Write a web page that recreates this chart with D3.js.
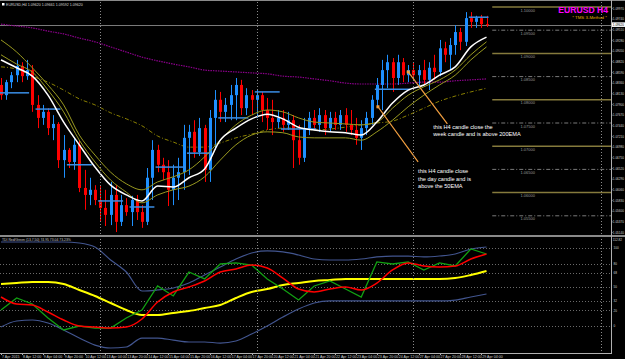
<!DOCTYPE html>
<html>
<head>
<meta charset="utf-8">
<script src="https://cdnjs.cloudflare.com/ajax/libs/d3/7.8.5/d3.min.js"></script>
<style>
html, body { margin: 0; padding: 0; background: #000; }
svg { display: block; font-family: Arial, "Liberation Sans", sans-serif; }
</style>
</head>
<body>
<svg id="chart"></svg>
<script>
// ---- EURUSD H4 candles (bar 0 = 7 Apr 20:00)
var opens  = [1.0832,1.0810,1.0838,1.0853,1.0873,1.0851,1.0864,1.0789,1.0761,1.0774,1.0739,1.0748,1.0670,1.0692,1.0666,1.0703,1.0610,1.0595,1.0606,1.0584,1.0567,1.0552,1.0595,1.0537,1.0573,1.0558,1.0584,1.0558,1.0537,1.0632,1.0692,1.0660,1.0644,1.0606,1.0632,1.0644,1.0718,1.0731,1.0687,1.0739,1.0649,1.0761,1.0800,1.0774,1.0789,1.0810,1.0832,1.0782,1.0810,1.0800,1.0810,1.0778,1.0761,1.0752,1.0761,1.0746,1.0756,1.0713,1.0675,1.0739,1.0761,1.0746,1.0767,1.0739,1.0761,1.0746,1.0767,1.0746,1.0735,1.0718,1.0739,1.0761,1.0800,1.0832,1.0864,1.0881,1.0847,1.0881,1.0853,1.0864,1.0853,1.0864,1.0843,1.0869,1.0860,1.0911,1.0897,1.0918,1.0946,1.0925,1.0976,1.0968,1.0976,1.0963];
var highs  = [1.0847,1.0843,1.0860,1.0886,1.0881,1.0886,1.0875,1.0810,1.0789,1.0782,1.0767,1.0752,1.0724,1.0696,1.0718,1.0713,1.0649,1.0632,1.0616,1.0614,1.0606,1.0623,1.0616,1.0595,1.0588,1.0593,1.0595,1.0573,1.0653,1.0713,1.0703,1.0675,1.0670,1.0660,1.0675,1.0746,1.0746,1.0756,1.0761,1.0746,1.0778,1.0821,1.0817,1.0804,1.0832,1.0847,1.0843,1.0825,1.0821,1.0821,1.0817,1.0804,1.0800,1.0778,1.0778,1.0774,1.0767,1.0746,1.0761,1.0774,1.0778,1.0782,1.0778,1.0774,1.0774,1.0778,1.0782,1.0778,1.0761,1.0756,1.0774,1.0810,1.0847,1.0886,1.0897,1.0890,1.0897,1.0890,1.0875,1.0881,1.0875,1.0886,1.0881,1.0897,1.0929,1.0925,1.0933,1.0961,1.0955,1.0989,1.0989,1.0981,1.0983,1.0981];
var lows   = [1.0800,1.0800,1.0825,1.0838,1.0838,1.0843,1.0774,1.0739,1.0746,1.0724,1.0713,1.0653,1.0632,1.0653,1.0649,1.0601,1.0563,1.0573,1.0573,1.0537,1.0528,1.0530,1.0515,1.0528,1.0550,1.0528,1.0541,1.0524,1.0530,1.0584,1.0644,1.0627,1.0571,1.0573,1.0584,1.0606,1.0638,1.0675,1.0679,1.0623,1.0623,1.0692,1.0752,1.0752,1.0756,1.0756,1.0767,1.0767,1.0767,1.0761,1.0752,1.0735,1.0724,1.0739,1.0731,1.0735,1.0653,1.0660,1.0666,1.0724,1.0735,1.0731,1.0724,1.0731,1.0735,1.0735,1.0731,1.0724,1.0703,1.0692,1.0724,1.0746,1.0782,1.0778,1.0825,1.0817,1.0832,1.0838,1.0838,1.0843,1.0825,1.0832,1.0821,1.0843,1.0851,1.0881,1.0864,1.0897,1.0907,1.0916,1.0955,1.0955,1.0955,1.0957];
var closes = [1.0810,1.0838,1.0853,1.0873,1.0851,1.0864,1.0789,1.0761,1.0774,1.0739,1.0748,1.0670,1.0692,1.0666,1.0703,1.0610,1.0595,1.0606,1.0584,1.0567,1.0552,1.0595,1.0537,1.0573,1.0558,1.0584,1.0558,1.0537,1.0632,1.0692,1.0660,1.0644,1.0606,1.0632,1.0644,1.0718,1.0731,1.0687,1.0739,1.0649,1.0761,1.0800,1.0774,1.0789,1.0810,1.0832,1.0782,1.0810,1.0800,1.0810,1.0778,1.0761,1.0752,1.0761,1.0746,1.0756,1.0713,1.0675,1.0739,1.0761,1.0746,1.0767,1.0739,1.0761,1.0746,1.0767,1.0746,1.0735,1.0718,1.0739,1.0761,1.0800,1.0832,1.0864,1.0881,1.0847,1.0881,1.0853,1.0864,1.0853,1.0864,1.0843,1.0869,1.0860,1.0911,1.0897,1.0918,1.0946,1.0925,1.0976,1.0968,1.0976,1.0963,1.0962];

// ---- moving averages, sampled every 3 bars
var lineIdx   = [0,3,6,9,12,15,18,21,24,27,30,33,36,39,42,45,48,51,54,57,60,63,66,69,72,75,78,81,84,87,90,93];
var fastEma   = [1.0886,1.0869,1.0851,1.0810,1.0752,1.0703,1.0655,1.0616,1.0595,1.0582,1.0614,1.0612,1.0632,1.0651,1.0713,1.0739,1.0759,1.0769,1.0759,1.0741,1.0735,1.0731,1.0729,1.0724,1.0752,1.0793,1.0821,1.0832,1.0853,1.0871,1.0914,1.0935];
var bandHigh  = [1.0929,1.0903,1.0869,1.0832,1.0789,1.0724,1.0681,1.0644,1.0619,1.0606,1.0623,1.0634,1.0649,1.0677,1.0713,1.0746,1.0767,1.0778,1.0774,1.0761,1.0752,1.0750,1.0748,1.0746,1.0752,1.0782,1.0810,1.0828,1.0843,1.0864,1.0897,1.0925];
var bandLow   = [1.0897,1.0877,1.0860,1.0821,1.0774,1.0713,1.0666,1.0627,1.0601,1.0578,1.0595,1.0606,1.0614,1.0634,1.0670,1.0703,1.0724,1.0731,1.0729,1.0720,1.0718,1.0718,1.0718,1.0713,1.0731,1.0756,1.0785,1.0810,1.0832,1.0853,1.0886,1.0914];
var ema50     = [1.0871,1.0866,1.0851,1.0838,1.0821,1.0802,1.0789,1.0772,1.0759,1.0744,1.0722,1.0709,1.0698,1.0698,1.0707,1.0718,1.0726,1.0735,1.0739,1.0739,1.0735,1.0737,1.0741,1.0746,1.0750,1.0754,1.0767,1.0782,1.0797,1.0808,1.0817,1.0825];
var ema200    = [1.0963,1.0959,1.0955,1.0948,1.0942,1.0933,1.0925,1.0914,1.0903,1.0892,1.0884,1.0877,1.0871,1.0864,1.0862,1.0860,1.0858,1.0856,1.0851,1.0849,1.0845,1.0841,1.0836,1.0834,1.0834,1.0834,1.0836,1.0838,1.0838,1.0841,1.0843,1.0845];

// ---- TDI window, same sampling
var tdiUpper  = [107.7,107.7,107.7,107.7,107.7,106.4,101.3,84.6,69.2,44.9,46.2,48.7,55.1,65.4,75.6,85.9,93.6,96.2,94.9,91.0,85.9,84.6,84.6,85.9,88.5,89.7,89.7,88.5,89.7,92.3,98.7,101.3];
var tdiLower  = [-1.3,6.4,7.7,3.8,-5.1,-15.4,-24.4,-28.2,-26.9,-15.4,-15.4,-18.0,-20.5,-20.5,-21.8,-19.2,-10.3,0.0,11.5,21.8,29.5,32.1,32.1,32.1,32.1,32.1,32.1,32.1,32.1,33.3,37.2,41.0];
var tdiBase   = [53.8,55.1,56.4,56.4,53.8,46.2,38.5,29.5,20.5,14.1,14.1,16.7,19.2,23.1,26.9,35.9,43.6,47.4,52.6,55.1,57.7,59.0,60.3,60.3,60.3,60.3,60.3,60.3,60.3,61.5,65.4,70.5];
var tdiSignal = [37.2,28.2,26.9,17.9,7.7,0.0,-1.3,-2.6,-1.3,9.0,30.8,43.6,50.0,57.7,69.2,73.1,78.2,74.4,61.5,47.4,43.6,47.4,50.0,46.2,55.1,71.8,80.8,76.9,75.6,76.9,85.9,92.3];
var tdiPrice  = [20.5,35.9,28.2,10.3,-5.1,0.0,-2.6,-2.6,10.3,20.5,51.3,38.5,69.2,60.3,79.5,80.8,78.2,60.3,47.4,33.3,51.3,57.7,47.4,37.2,82.1,79.5,82.1,71.8,80.8,76.9,98.7,92.3];
var tdiLevels = [0, 20, 32, 50, 68, 80, 100];

// ---- blue block lines
var blockStart = [0, 7, 13, 19, 25, 30, 36, 42, 49, 54, 72, 90];
var blockEnd   = [5, 11, 17, 23, 29, 35, 40, 47, 53, 60, 78, 93];
var blockPrice = [1.0815,1.0780,1.0660,1.0582,1.0569,1.0655,1.0685,1.0761,1.0817,1.0737,1.0823,1.0978];

// ---- TMS zone levels (drawn right of the last bar)
var zoneSolid = [1.10, 1.09, 1.08, 1.07, 1.06];
var zoneDash  = [1.095, 1.085, 1.075, 1.065, 1.055];

// ---- axes
var priceTicks = [1.09970,1.09740,1.09510,1.09280,1.09050,1.08820,1.08590,1.08360,1.08130,1.07900,1.07670,1.07440,1.07210,1.06980,1.06750,1.06520,1.06290,1.06060,1.05830,1.05600,1.05370,1.05140];
var timeIdx    = [0,4,8,12,16,20,24,28,32,36,40,44,48,52,56,60,64,68,72,76,80,84,88,92];
var timeLabels = ["7 Apr 2015","8 Apr 12:00","9 Apr 04:00","9 Apr 20:00","10 Apr 12:00","13 Apr 04:00","13 Apr 20:00","14 Apr 12:00","15 Apr 04:00","15 Apr 20:00","16 Apr 12:00","17 Apr 04:00","17 Apr 20:00","20 Apr 12:00","21 Apr 04:00","21 Apr 20:00","22 Apr 12:00","23 Apr 04:00","23 Apr 20:00","24 Apr 12:00","27 Apr 04:00","27 Apr 20:00","28 Apr 12:00","29 Apr 04:00"];
var separatorIdx = [19, 49, 79, 115];

// ---- notes
var notes = [
  {tipI: 78, tipP: 1.0860, endI: 85.5, endP: 1.0748, textI: 82.8, textP: 1.0738,
   lines: ["this H4 candle close the", "week candle and is above 200EMA"]},
  {tipI: 72.2, tipP: 1.0785, endI: 79.9, endP: 1.0666, textI: 79.9, textP: 1.0642,
   lines: ["this H4 candle close", "the day candle and is", "above the 50EMA"]}
];

var width = 625, height = 359;
var axisX = 611;
var mainTop = 2, mainBottom = 235, tdiTop = 237, tdiBottom = 353;

var svg = d3.select("#chart").attr("width", width).attr("height", height);
svg.append("rect").attr("width", width).attr("height", height).attr("fill", "#000");

var x = d3.scaleLinear().domain([0, 93]).range([1, 486.5]);
var y = d3.scaleLinear().domain([1.05, 1.10]).range([239, 7]);
var yT = d3.scaleLinear().domain([-33.3, 112.8]).range([352, 238]);

var defs = svg.append("defs");
defs.append("clipPath").attr("id", "clipMain").append("rect")
  .attr("x", 0).attr("y", mainTop).attr("width", axisX).attr("height", mainBottom - mainTop);
defs.append("clipPath").attr("id", "clipTdi").append("rect")
  .attr("x", 0).attr("y", tdiTop).attr("width", axisX).attr("height", tdiBottom - tdiTop);

var main = svg.append("g").attr("clip-path", "url(#clipMain)");
var tdi = svg.append("g").attr("clip-path", "url(#clipTdi)");

// period separators
svg.selectAll("line.sep")
  .data(separatorIdx)
  .enter().append("line")
  .attr("class", "sep")
  .attr("x1", d => Math.round(x(d)) + 0.5).attr("x2", d => Math.round(x(d)) + 0.5)
  .attr("y1", mainTop).attr("y2", tdiBottom)
  .attr("stroke", "#8a8a8a").attr("stroke-width", 1).attr("stroke-dasharray", "1,2");

// TMS zone lines
main.selectAll("line.zs")
  .data(zoneSolid).enter().append("line")
  .attr("x1", x(94.1)).attr("x2", axisX)
  .attr("y1", d => y(d)).attr("y2", d => y(d))
  .attr("stroke", "#857a3c").attr("stroke-width", 1.5);
main.selectAll("line.zd")
  .data(zoneDash).enter().append("line")
  .attr("x1", x(94.1)).attr("x2", axisX)
  .attr("y1", d => y(d)).attr("y2", d => y(d))
  .attr("stroke", "#7a7a7a").attr("stroke-width", 1).attr("stroke-dasharray", "4,2,1,2");
main.selectAll("text.zl")
  .data(zoneSolid.concat(zoneDash)).enter().append("text")
  .attr("x", x(100.9)).attr("y", d => y(d) + 4.5)
  .attr("text-anchor", "middle").attr("font-size", 4).attr("fill", "#9a9a9a")
  .text(d => d.toFixed(5));

// bid line
main.append("line")
  .attr("x1", 0).attr("x2", axisX)
  .attr("y1", Math.round(y(closes[closes.length - 1])) + 0.5)
  .attr("y2", Math.round(y(closes[closes.length - 1])) + 0.5)
  .attr("stroke", "#7a7a7a").attr("stroke-width", 1);

function priceLine(values) {
  return d3.line()
    .x((d, i) => x(lineIdx[i]))
    .y(d => y(d))
    .curve(d3.curveMonotoneX)(values);
}

// 200 EMA (purple dotted)
main.append("path").attr("d", priceLine(ema200))
  .attr("fill", "none").attr("stroke", "#8b008b").attr("stroke-width", 1.2).attr("stroke-dasharray", "1.5,1");
// 50 EMA dash-dot
main.append("path").attr("d", priceLine(ema50))
  .attr("fill", "none").attr("stroke", "#8b8000").attr("stroke-width", 1).attr("stroke-dasharray", "4,2,1,2");

// candles
var bars = d3.range(opens.length).map(function(i) {
  return {i: i, o: opens[i], h: highs[i], l: lows[i], c: closes[i]};
});
var candle = main.selectAll("g.candle").data(bars).enter().append("g");
candle.append("line")
  .attr("x1", d => Math.round(x(d.i)) + 0.5).attr("x2", d => Math.round(x(d.i)) + 0.5)
  .attr("y1", d => y(d.h)).attr("y2", d => y(d.l))
  .attr("stroke", d => d.c >= d.o ? "#1e90ff" : "#ff0000").attr("stroke-width", 1);
candle.append("rect")
  .attr("x", d => Math.round(x(d.i)) - 1)
  .attr("y", d => y(Math.max(d.o, d.c)))
  .attr("width", 3)
  .attr("height", d => Math.max(1, Math.abs(y(d.o) - y(d.c))))
  .attr("fill", d => d.c >= d.o ? "#1e90ff" : "#ff0000");

// blue block lines
main.selectAll("line.blk")
  .data(blockPrice).enter().append("line")
  .attr("x1", (d, i) => x(blockStart[i]) - 2).attr("x2", (d, i) => x(blockEnd[i]) + 2)
  .attr("y1", d => y(d)).attr("y2", d => y(d))
  .attr("stroke", "#3a8ee6").attr("stroke-width", 1.5);

// bands and fast EMA
[bandHigh, bandLow].forEach(function(b) {
  main.append("path").attr("d", priceLine(b))
    .attr("fill", "none").attr("stroke", "#9a9a20").attr("stroke-width", 1);
});
main.append("path").attr("d", priceLine(fastEma))
  .attr("fill", "none").attr("stroke", "#ffffff").attr("stroke-width", 1.5);

// notes
notes.forEach(function(n) {
  main.append("line")
    .attr("x1", x(n.tipI)).attr("y1", y(n.tipP))
    .attr("x2", x(n.endI)).attr("y2", y(n.endP))
    .attr("stroke", "#f4a040").attr("stroke-width", 1.2);
  main.append("rect")
    .attr("x", x(n.tipI) - 1.5).attr("y", y(n.tipP) - 1.5)
    .attr("width", 3).attr("height", 3).attr("fill", "#f4a040");
  main.selectAll(null).data(n.lines).enter().append("text")
    .attr("x", x(n.textI)).attr("y", (d, k) => y(n.textP) + k * 7.5)
    .attr("font-size", 5.6).attr("fill", "#ffffff")
    .text(d => d);
});

// ---- TDI window
tdi.selectAll("line.lvl")
  .data(tdiLevels).enter().append("line")
  .attr("x1", 0).attr("x2", axisX)
  .attr("y1", d => Math.round(yT(d)) + 0.5).attr("y2", d => Math.round(yT(d)) + 0.5)
  .attr("stroke", "#6a6a6a").attr("stroke-width", 1).attr("stroke-dasharray", "1,2");

function tdiLine(values) {
  return d3.line()
    .x((d, i) => x(lineIdx[i]))
    .y(d => yT(d))
    .curve(d3.curveMonotoneX)(values);
}
[tdiUpper, tdiLower].forEach(function(b) {
  tdi.append("path").attr("d", tdiLine(b))
    .attr("fill", "none").attr("stroke", "#42558f").attr("stroke-width", 1.2);
});
tdi.append("path").attr("d", tdiLine(tdiBase))
  .attr("fill", "none").attr("stroke", "#ffff00").attr("stroke-width", 2);
tdi.append("path").attr("d", d3.line().x((d, i) => x(lineIdx[i])).y(d => yT(d))(tdiPrice))
  .attr("fill", "none").attr("stroke", "#12a012").attr("stroke-width", 1.3);
tdi.append("path").attr("d", tdiLine(tdiSignal))
  .attr("fill", "none").attr("stroke", "#ff0000").attr("stroke-width", 1.5);

// ---- frame
svg.append("line").attr("x1", 0).attr("x2", width).attr("y1", 0.5).attr("y2", 0.5)
  .attr("stroke", "#8a8a8a").attr("stroke-width", 1);
svg.append("line").attr("x1", 0).attr("x2", width).attr("y1", 236).attr("y2", 236)
  .attr("stroke", "#8a8a8a").attr("stroke-width", 2);
svg.append("line").attr("x1", 0).attr("x2", axisX).attr("y1", tdiBottom + 0.5).attr("y2", tdiBottom + 0.5)
  .attr("stroke", "#b0b0b0").attr("stroke-width", 1);
svg.append("line").attr("x1", axisX + 0.5).attr("x2", axisX + 0.5).attr("y1", 0).attr("y2", tdiBottom + 1)
  .attr("stroke", "#b0b0b0").attr("stroke-width", 1);

// price axis
var pa = svg.append("g");
pa.selectAll("line").data(priceTicks).enter().append("line")
  .attr("x1", axisX).attr("x2", axisX + 1.5)
  .attr("y1", d => y(d)).attr("y2", d => y(d))
  .attr("stroke", "#b0b0b0");
pa.selectAll("text").data(priceTicks).enter().append("text")
  .attr("x", axisX + 1.8).attr("y", d => y(d) + 1.2)
  .attr("font-size", 3.1).attr("fill", "#d0d0d0")
  .text(d => d.toFixed(5));
var lastClose = closes[closes.length - 1];
pa.append("rect").attr("x", axisX + 1).attr("y", y(lastClose) - 2.3)
  .attr("width", 13).attr("height", 4.6).attr("fill", "#ffffff");
pa.append("text").attr("x", axisX + 1.8).attr("y", y(lastClose) + 1.2)
  .attr("font-size", 3.1).attr("fill", "#000").text(lastClose.toFixed(5));

// TDI axis
var ta = svg.append("g");
ta.selectAll("text").data(tdiLevels).enter().append("text")
  .attr("x", axisX + 2.5).attr("y", d => yT(d) + 1.2)
  .attr("font-size", 3.1).attr("fill", "#d0d0d0")
  .text(d => d);
ta.append("text").attr("x", axisX + 1.8).attr("y", 241)
  .attr("font-size", 3.1).attr("fill", "#d0d0d0").text("112.82");

// time axis
var tx = svg.append("g");
tx.selectAll("line").data(timeIdx).enter().append("line")
  .attr("x1", d => Math.round(x(d)) + 0.5).attr("x2", d => Math.round(x(d)) + 0.5)
  .attr("y1", tdiBottom).attr("y2", tdiBottom + 2)
  .attr("stroke", "#b0b0b0");
tx.selectAll("text").data(timeIdx).enter().append("text")
  .attr("x", d => x(d) + 1).attr("y", 357.5)
  .attr("font-size", 3.6).attr("fill", "#d0d0d0")
  .text((d, i) => timeLabels[i]);

// labels
svg.append("rect").attr("x", 2).attr("y", 3).attr("width", 2.5).attr("height", 2.5).attr("fill", "#ffffff");
svg.append("text").attr("x", 6).attr("y", 6).attr("font-size", 3.6).attr("fill", "#d8d8d8")
  .text("EURUSD,H4  1.09620 1.09661 1.09592 1.09620");
svg.append("text").attr("x", 2).attr("y", 241).attr("font-size", 3.4).attr("fill", "#c8c8c8")
  .text("TDI Red/Green (13,7,50) 74.95 73.04 73.23%");
svg.append("text").attr("x", 608).attr("y", 13).attr("text-anchor", "end")
  .attr("font-size", 8.6).attr("font-weight", "bold").attr("fill", "#ff00ff")
  .text("EURUSD H4");
svg.append("text").attr("x", 607).attr("y", 18.5).attr("text-anchor", "end")
  .attr("font-size", 4.4).attr("fill", "#e0b000")
  .text("* TMS 3-Method *");
</script>
</body>
</html>
